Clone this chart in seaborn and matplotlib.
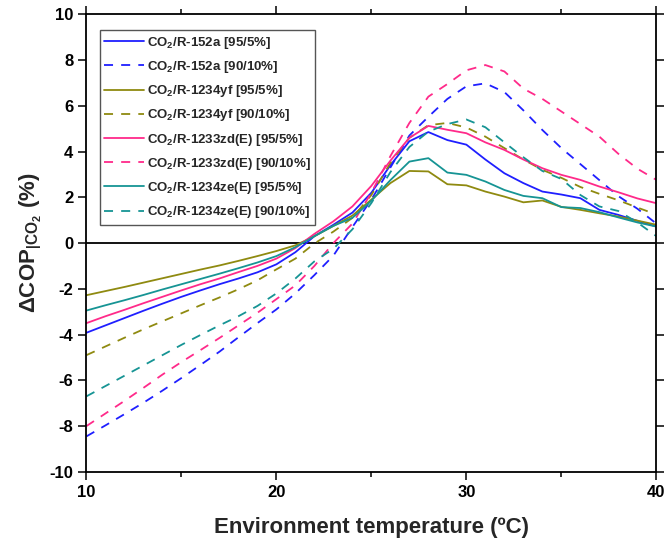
import seaborn as sns
import matplotlib.pyplot as plt
import numpy as np
import pandas as pd
from matplotlib.ticker import MultipleLocator

# environment temperature (C)
temps = list(range(10, 41))

# Delta COP (%), one list per mixture
r152a_95 = [-3.92, -3.60, -3.28, -2.96, -2.65, -2.35, -2.07, -1.80, -1.55, -1.28, -0.93,
            -0.40, 0.30, 0.80, 1.33, 2.20, 3.40, 4.45, 4.85, 4.50, 4.30, 3.65, 3.05, 2.62,
            2.25, 2.12, 1.96, 1.45, 1.23, 0.97, 0.72]
r152a_90 = [-8.45, -7.97, -7.48, -6.98, -6.45, -5.90, -5.33, -4.75, -4.12, -3.50, -2.90,
            -2.20, -1.40, -0.55, 0.70, 1.90, 3.30, 4.70, 5.52, 6.30, 6.85, 6.98, 6.60, 5.80,
            4.94, 4.15, 3.45, 2.75, 2.05, 1.50, 0.85]
r1234yf_95 = [-2.28, -2.10, -1.92, -1.73, -1.54, -1.35, -1.16, -0.98, -0.78, -0.57, -0.35,
              -0.10, 0.30, 0.75, 1.20, 1.90, 2.62, 3.15, 3.13, 2.57, 2.52, 2.25, 2.03, 1.78,
              1.86, 1.58, 1.45, 1.30, 1.16, 0.98, 0.80]
r1234yf_90 = [-4.90, -4.52, -4.14, -3.77, -3.42, -3.07, -2.72, -2.38, -2.02, -1.63, -1.15,
              -0.68, -0.02, 0.50, 1.10, 2.10, 3.50, 4.60, 5.15, 5.25, 5.05, 4.65, 4.15, 3.65,
              3.20, 2.85, 2.45, 2.15, 1.87, 1.55, 1.25]
r1233zd_95 = [-3.50, -3.20, -2.92, -2.63, -2.35, -2.07, -1.80, -1.55, -1.27, -1.00, -0.68,
              -0.22, 0.40, 0.95, 1.60, 2.50, 3.60, 4.60, 5.12, 4.95, 4.80, 4.40, 4.07, 3.65,
              3.27, 2.98, 2.76, 2.47, 2.22, 1.95, 1.74]
r1233zd_90 = [-8.00, -7.45, -6.90, -6.33, -5.75, -5.20, -4.68, -4.15, -3.60, -3.05, -2.45,
              -1.85, -1.00, 0.00, 0.85, 2.20, 3.80, 5.25, 6.40, 6.95, 7.55, 7.78, 7.50, 6.75,
              6.30, 5.75, 5.20, 4.65, 3.90, 3.25, 2.76]
r1234ze_95 = [-2.95, -2.72, -2.50, -2.27, -2.03, -1.80, -1.57, -1.34, -1.10, -0.85, -0.57,
              -0.18, 0.30, 0.75, 1.10, 1.85, 2.75, 3.56, 3.71, 3.08, 2.98, 2.69, 2.32, 2.06,
              1.96, 1.57, 1.53, 1.35, 1.12, 0.90, 0.72]
r1234ze_90 = [-6.70, -6.25, -5.80, -5.35, -4.90, -4.45, -4.02, -3.60, -3.20, -2.75, -2.20,
              -1.55, -0.80, -0.25, 0.60, 1.75, 3.10, 4.20, 4.87, 5.20, 5.40, 5.06, 4.40, 3.75,
              3.15, 2.80, 2.10, 1.60, 1.40, 0.90, 0.30]

labels = [r"CO$_\mathbf{2}$/R-152a [95/5%]", r"CO$_\mathbf{2}$/R-152a [90/10%]",
          r"CO$_\mathbf{2}$/R-1234yf [95/5%]", r"CO$_\mathbf{2}$/R-1234yf [90/10%]",
          r"CO$_\mathbf{2}$/R-1233zd(E) [95/5%]", r"CO$_\mathbf{2}$/R-1233zd(E) [90/10%]",
          r"CO$_\mathbf{2}$/R-1234ze(E) [95/5%]", r"CO$_\mathbf{2}$/R-1234ze(E) [90/10%]"]
series = [r152a_95, r152a_90, r1234yf_95, r1234yf_90,
          r1233zd_95, r1233zd_90, r1234ze_95, r1234ze_90]
colors = ["#1f1fff", "#1f1fff", "#8f8a10", "#8f8a10",
          "#ff2a8a", "#ff2a8a", "#169494", "#169494"]

sns.set_style("ticks")
plt.rcParams["font.family"] = ["Liberation Sans", "DejaVu Sans"]
plt.rcParams["font.weight"] = "bold"
plt.rcParams["mathtext.fontset"] = "custom"
plt.rcParams["mathtext.rm"] = "Liberation Sans:bold"
plt.rcParams["mathtext.bf"] = "Liberation Sans:bold"
plt.rcParams["mathtext.it"] = "Liberation Sans:bold"
plt.rcParams["axes.unicode_minus"] = False

fig = plt.figure(figsize=(6.65, 5.48), dpi=100)
ax = fig.add_axes([0.130, 0.139, 0.857, 0.835])

for i, (lab, vals) in enumerate(zip(labels, series)):
    df = pd.DataFrame({"T": temps, "d": vals})
    ls = "-" if i % 2 == 0 else (0, (5, 4.5))
    sns.lineplot(data=df, x="T", y="d", ax=ax, color=colors[i], linewidth=1.3,
                 linestyle=ls, label=lab)

ax.axhline(0, color="black", linewidth=1.3, zorder=1)

ax.set_xlim(10, 40)
ax.set_ylim(-10, 10)
ax.xaxis.set_major_locator(MultipleLocator(10))
ax.xaxis.set_minor_locator(MultipleLocator(5))
ax.yaxis.set_major_locator(MultipleLocator(2))
for s in ax.spines.values():
    s.set_linewidth(1.3)
    s.set_color("black")
ax.tick_params(which="both", direction="out", top=True, right=True, width=1.1,
               labelsize=12, colors="black")
ax.tick_params(which="major", length=6)
ax.tick_params(which="minor", length=3.5)

ax.set_xlabel("Environment temperature (ºC)", fontsize=16, fontweight="bold", labelpad=12)
ax.set_ylabel(r"$\Delta$COP$\left|_\mathbf{CO_2}\right.$ (%)", fontsize=16,
              fontweight="bold", labelpad=4)

leg = ax.legend(loc="upper left", bbox_to_anchor=(0.023, 0.965), borderaxespad=0,
                fancybox=False, edgecolor="#555555", framealpha=1, fontsize=9.5,
                handlelength=3.0, labelspacing=0.62, handletextpad=0.25, borderpad=0.35)
leg.get_frame().set_linewidth(1.0)

fig.savefig("out.png", dpi=100)
